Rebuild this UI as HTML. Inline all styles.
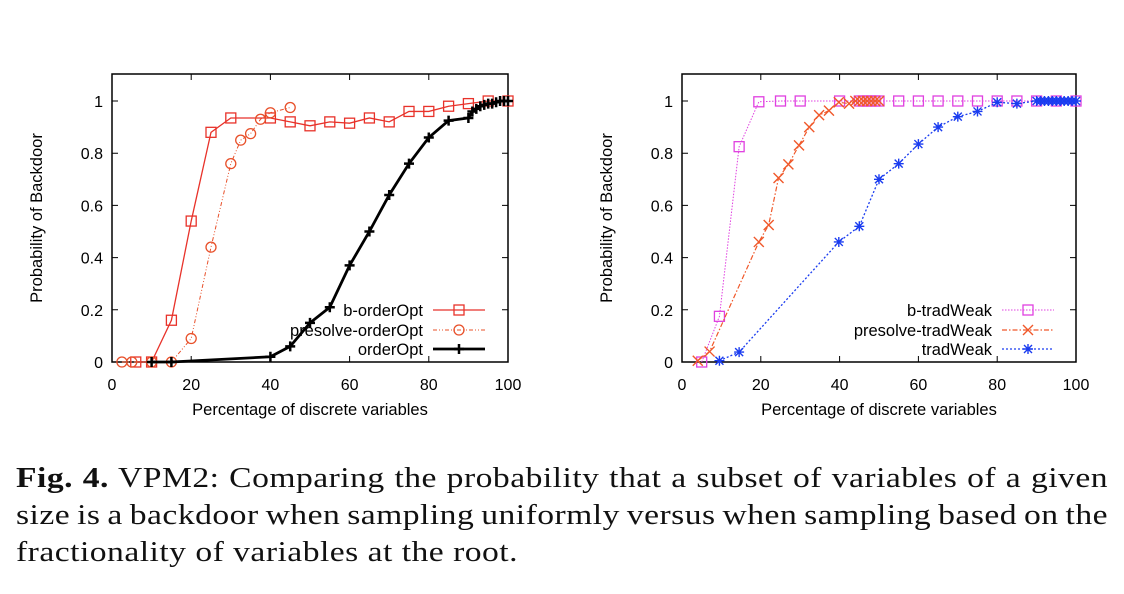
<!DOCTYPE html>
<html><head><meta charset="utf-8"><style>
body{margin:0;background:#fff;width:1124px;height:594px;overflow:hidden;position:relative}
svg text{font-family:"Liberation Sans",sans-serif}
.cap{position:absolute;left:16px;width:910px;font-family:"Liberation Serif",serif;font-size:28px;line-height:37px;top:460px;color:#111;letter-spacing:0.4px;transform:scaleX(1.2);transform-origin:0 0}
.cap div{white-space:nowrap}
.cap span{display:inline-block;white-space:nowrap}
</style></head><body>
<svg id="chart" width="1124" height="594" style="position:absolute;left:0;top:0"></svg>
<div class="cap">
<div><span class="j"><b>Fig. 4.</b> VPM2: Comparing the probability that a subset of variables of a given</span></div>
<div><span class="j">size is a backdoor when sampling uniformly versus when sampling based on the</span></div>
<div><span>fractionality of variables at the root.</span></div>
</div>
<script>
const xTicks=[0,20,40,60,80,100];
const yTicks=[0,0.2,0.4,0.6,0.8,1];
const yTickLabels=["0","0.2","0.4","0.6","0.8","1"];
const bOrderX=[6,10,15,20,25,30,40,45,50,55,60,65,70,75,80,85,90,95,100];
const bOrderY=[0,0,0.16,0.54,0.88,0.935,0.935,0.92,0.905,0.92,0.915,0.935,0.92,0.96,0.96,0.98,0.99,1,1];
const preOrderX=[2.5,5,10,15,20,25,30,32.5,35,37.5,40,45];
const preOrderY=[0,0,0,0,0.09,0.44,0.76,0.85,0.875,0.93,0.955,0.975];
const orderX=[10,15,40,45,50,55,60,65,70,75,80,85,90,91,92,93,94,95,96,97,98,99,100];
const orderY=[0,0,0.02,0.06,0.15,0.21,0.37,0.5,0.64,0.76,0.86,0.925,0.935,0.96,0.97,0.98,0.985,0.99,0.99,0.995,1,1,1];
const bTradX=[5,9.5,14.5,19.5,25,30,40,45,46,47,48,49,50,55,60,65,70,75,80,85,90,95,100];
const bTradY=[0,0.175,0.825,0.997,1,1,1,1,1,1,1,1,1,1,1,1,1,1,1,1,1,1,1];
const preTradX=[4,7,19.5,22,24.5,27,29.7,32.3,34.8,37.3,39.8,42.4,44,45,46,47,48,49,50];
const preTradY=[0.005,0.04,0.46,0.525,0.705,0.757,0.83,0.9,0.946,0.963,0.995,0.99,1,1,1,1,1,1,1];
const tradX=[9.5,14.5,39.8,45,50,55,60,65,70,75,80,85,90,91,92,93,94,95,96,97,98,99,100];
const tradY=[0.005,0.038,0.46,0.52,0.7,0.76,0.835,0.9,0.94,0.96,0.995,0.99,1,1,1,1,1,1,1,1,1,1,1];

document.querySelectorAll('.cap .j').forEach(sp=>{
  const w=sp.getBoundingClientRect().width/1.2;
  const gaps=(sp.textContent.match(/ /g)||[]).length;
  if(gaps) sp.style.wordSpacing=((910-w)/gaps)+'px';
});

const svg=document.getElementById('chart');
const NS='http://www.w3.org/2000/svg';
function mk(tag,attrs,parent){const e=document.createElementNS(NS,tag);for(const k in attrs)e.setAttribute(k,attrs[k]);(parent||svg).appendChild(e);return e;}
function txt(s,attrs,parent){const e=mk('text',attrs,parent);e.textContent=s;return e;}

function marker(g,type,x,y,color){
  if(type==='square'){const m=mk('rect',{x:x-5,y:y-5,width:10,height:10,fill:'none',stroke:color,'stroke-width':1.3},g);}
  else if(type==='circle'){const m=mk('circle',{cx:x,cy:y,r:5,fill:'none',stroke:color,'stroke-width':1.3},g);}
  else if(type==='plus'){const m=mk('path',{d:`M${x-5} ${y}H${x+5}M${x} ${y-5}V${y+5}`,stroke:color,'stroke-width':2.5},g);}
  else if(type==='x'){const m=mk('path',{d:`M${x-5} ${y-5}L${x+5} ${y+5}M${x-5} ${y+5}L${x+5} ${y-5}`,stroke:color,'stroke-width':1.4},g);}
  else if(type==='star'){const m=mk('path',{d:`M${x-5} ${y}H${x+5}M${x} ${y-5}V${y+5}M${x-4} ${y-4}L${x+4} ${y+4}M${x-4} ${y+4}L${x+4} ${y-4}`,stroke:color,'stroke-width':1.4},g);}
}

function panel(name,x0,x1,series,legendRight){
  const top=74,bot=362,y1=101;
  const sx=v=>x0+(x1-x0)*v/100, sy=v=>bot-(bot-y1)*v;
  const g=mk('g',{});
  
  
  const fr=mk('rect',{x:x0,y:top,width:x1-x0,height:bot-top,fill:'none',stroke:'#000','stroke-width':1.5},g);
  
  xTicks.forEach(t=>{const X=sx(t);
    mk('path',{d:`M${X} ${bot}v-6M${X} ${top}v6`,stroke:'#000','stroke-width':1},g);
    const l=txt(String(t),{x:X,y:390,'text-anchor':'middle','font-size':16},g);
    });
  yTicks.forEach((t,i)=>{const Y=sy(t);
    mk('path',{d:`M${x0} ${Y}h6M${x1} ${Y}h-6`,stroke:'#000','stroke-width':1},g);
    const l=txt(yTickLabels[i],{x:x0-9,y:Y+6,'text-anchor':'end','font-size':16},g);
    });
  const xl=txt('Percentage of discrete variables',{x:(x0+x1)/2,y:415,'text-anchor':'middle','font-size':16.5},g);
  
  const yx=x0-70,yy=218;
  const yl=txt('Probability of Backdoor',{x:yx,y:yy,'text-anchor':'middle','font-size':16.5,transform:`rotate(-90 ${yx} ${yy})`},g);
  
  const legY=[310,330,349];
  series.forEach((s,i)=>{
    const sg=mk('g',{},g);
    
    
    const pts=s.xs.map((v,j)=>sx(v)+','+sy(s.ys[j])).join(' ');
    mk('polyline',{points:pts,fill:'none',stroke:s.color,'stroke-width':s.w,'stroke-dasharray':s.dash||'none'},sg);
    s.xs.forEach((v,j)=>marker(sg,s.marker,sx(v),sy(s.ys[j]),s.color));
    const lg=mk('g',{},g);
    
    
    txt(s.label,{x:legendRight,y:legY[i]+6,'text-anchor':'end','font-size':16.5},lg);
    mk('line',{x1:legendRight+10,x2:legendRight+62,y1:legY[i],y2:legY[i],stroke:s.color,'stroke-width':s.w,'stroke-dasharray':s.dash||'none'},lg);
    marker(lg,s.marker,legendRight+36,legY[i],s.color);
  });
}
panel('left-chart',112,508,[
  {id:'b-orderOpt',label:'b-orderOpt',xs:bOrderX,ys:bOrderY,color:'#e8322a',w:1.3,marker:'square'},
  {id:'presolve-orderOpt',label:'presolve-orderOpt',xs:preOrderX,ys:preOrderY,color:'#e8502a',w:1,dash:'4 2 1 2 1 2',marker:'circle'},
  {id:'orderOpt',label:'orderOpt',xs:orderX,ys:orderY,color:'#000',w:2.8,marker:'plus'}
],423);
panel('right-chart',682,1076,[
  {id:'b-tradWeak',label:'b-tradWeak',xs:bTradX,ys:bTradY,color:'#e040e0',w:1,dash:'1.5 1.5',marker:'square'},
  {id:'presolve-tradWeak',label:'presolve-tradWeak',xs:preTradX,ys:preTradY,color:'#f0582a',w:1.2,dash:'5 2 1.5 2',marker:'x'},
  {id:'tradWeak',label:'tradWeak',xs:tradX,ys:tradY,color:'#1a3cf0',w:1.3,dash:'2 2',marker:'star'}
],992);
</script>
</body></html>
